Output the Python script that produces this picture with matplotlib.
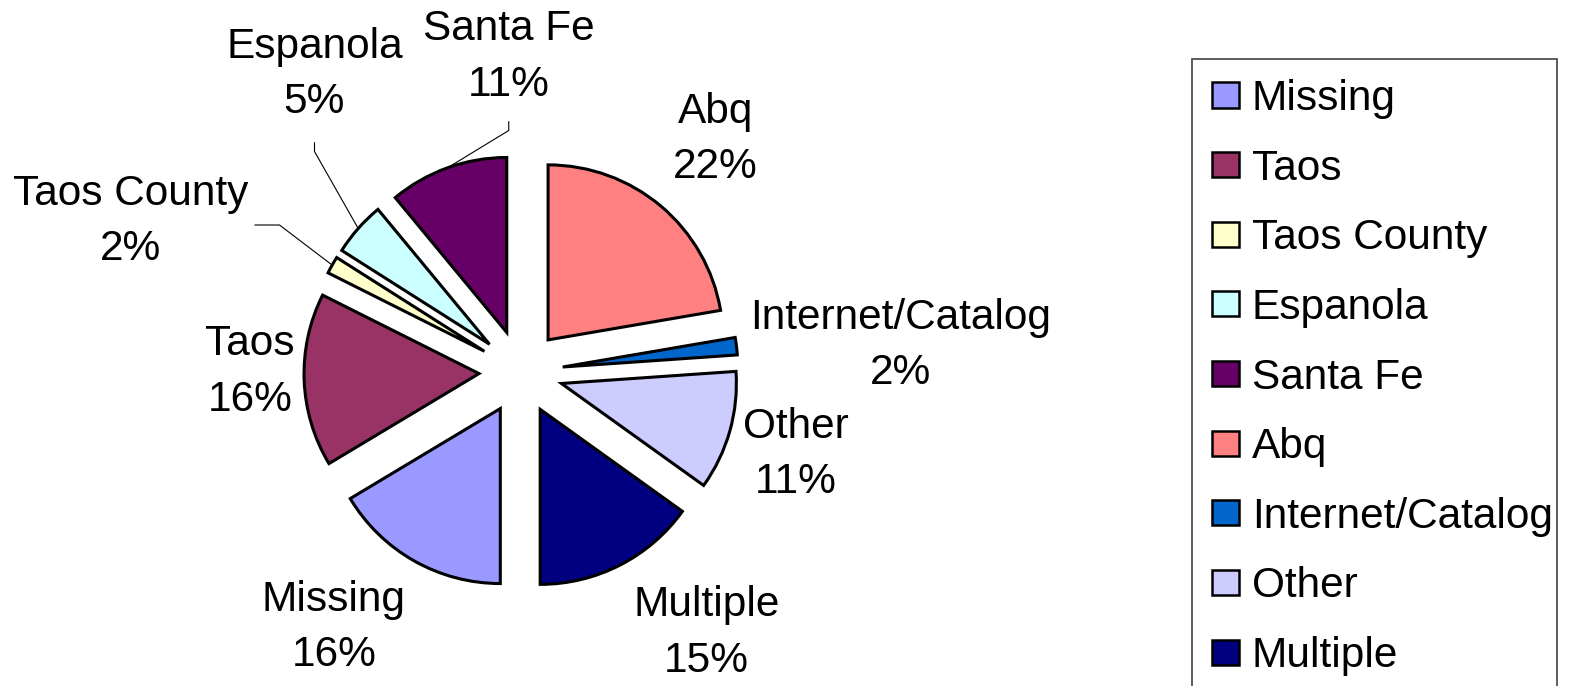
import matplotlib.pyplot as plt
from matplotlib.patches import Rectangle
import numpy as np

plt.rcParams['font.family'] = ['Liberation Sans', 'DejaVu Sans']

# data (Excel order, drawn clockwise starting at 6 o'clock)
names = ["Missing", "Taos", "Taos County", "Espanola", "Santa Fe",
         "Abq", "Internet/Catalog", "Other", "Multiple"]
shares = [16.4, 16.0, 1.6, 5.0, 11.0, 22.3, 1.6, 11.0, 15.1]
colors = ["#9999FF", "#993366", "#FFFFCC", "#CCFFFF", "#660066",
          "#FF8080", "#0066CC", "#CCCCFF", "#000080"]

# label placement (pie radius = 1, centre at 0,0)
label_pos = [(-1.07, -1.46), (-1.55, 0.0), (-2.23, 0.86), (-1.18, 1.70),
             (-0.07, 1.80), (1.11, 1.33), (2.17, 0.15), (1.57, -0.47),
             (1.06, -1.49)]
# leader lines: (label end, elbow) for the small slices at top left
leaders = {2: [(-1.52, 0.84), (-1.38, 0.84)],
           3: [(-1.18, 1.31), (-1.18, 1.26)],
           4: [(-0.07, 1.43), (-0.07, 1.38)]}

px = 175.0  # pixels per unit radius
cx, cy = 521, 372
W, H = 1575, 686

fig = plt.figure(figsize=(15.75, 6.86), dpi=100)
ax = fig.add_axes([0, 0, 1, 1])

explode = [0.24] * len(shares)
wedges, _ = ax.pie(shares, colors=colors, explode=explode, startangle=270,
                   counterclock=False,
                   wedgeprops=dict(edgecolor="black", linewidth=2.2))

total = sum(shares)
for i, w in enumerate(wedges):
    pct = shares[i] / total * 100
    lx, ly = label_pos[i]
    ax.text(lx, ly, "%s\n%.0f%%" % (names[i], pct), ha="center", va="center",
            fontsize=30.5, linespacing=1.5)
    if i in leaders:
        mid = np.deg2rad((w.theta1 + w.theta2) / 2)
        wx, wy = w.center
        tip = (wx + np.cos(mid), wy + np.sin(mid))
        pts = leaders[i] + [tip]
        ax.plot([p[0] for p in pts], [p[1] for p in pts], color="black", lw=0.8)

ax.set_xlim(-cx / px, (W - cx) / px)
ax.set_ylim(-(H - cy) / px, cy / px)
ax.axis("off")

# legend frame runs off the bottom of the picture
fig.patches.append(Rectangle((1192 / W, -0.05), (1557 - 1192) / W,
                             1 - 59 / H + 0.05, transform=fig.transFigure,
                             fill=False, edgecolor="#505050", lw=1.3))
leg = ax.legend(wedges, names, loc="upper left",
                bbox_to_anchor=(1192 / W, 1 - 59 / H),
                bbox_transform=fig.transFigure, fontsize=30.5, frameon=False,
                borderpad=0.47, labelspacing=0.70,
                handlelength=0.64, handleheight=0.54, handletextpad=0.3,
                borderaxespad=0)
for h in leg.legend_handles:
    h.set_linewidth(1.8)

plt.savefig("out.png")
